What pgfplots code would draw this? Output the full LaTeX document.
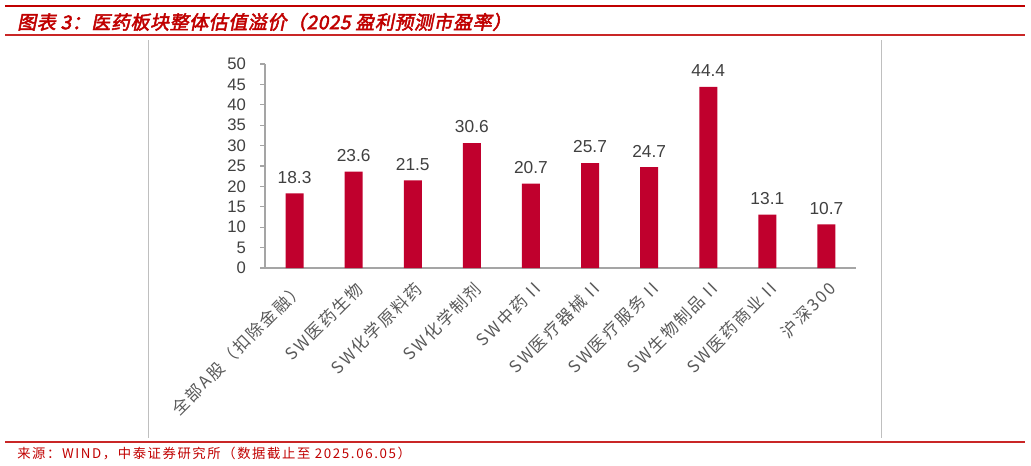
\documentclass[border=0pt]{standalone}
\usepackage{pgfplots}
\pgfplotsset{compat=1.18}
\usepackage{fontspec}
\setmainfont{Liberation Sans}
\newfontfamily\cjk{Noto Sans CJK SC}
\newfontfamily\cjkwide[LetterSpace=12]{Noto Sans CJK SC}
\newfontfamily\titlefont[FakeSlant=0.2,FakeBold=2.5,LetterSpace=3]{Noto Sans CJK SC}
\definecolor{barred}{RGB}{192,0,45}
\definecolor{hdred}{RGB}{192,0,0}
\definecolor{axgray}{RGB}{165,165,165}
\definecolor{txtgray}{RGB}{64,64,64}
\definecolor{catgray}{RGB}{89,89,89}
\pgfplotsset{/pgf/number format/assume math mode=true}

\begin{document}
\begin{tikzpicture}
% page frame in pixel units of the reference (y downwards)
\begin{scope}[x=0.75pt,y=-0.75pt]
\useasboundingbox (0,0) rectangle (1031,465);
\draw[hdred, line width=2.2pt] (5,6) -- (1025,6);
\draw[hdred!85, line width=0.8pt] (5,35) -- (1025,35);
\draw[hdred!85, line width=0.8pt] (5,442) -- (1025,442);
\draw[black!25, line width=0.7pt] (148,40) -- (148,438);
\draw[black!25, line width=0.7pt] (881,40) -- (881,438);
\node[anchor=west, text=hdred, inner sep=0, font=\titlefont\fontsize{14.25}{16}\selectfont]
  at (17,22) {图表 3：医药板块整体估值溢价（2025 盈利预测市盈率）};
\node[anchor=west, text=hdred, inner sep=0, font=\cjkwide\fontsize{10}{11}\selectfont]
  at (17,453) {来源：WIND，中泰证券研究所（数据截止至 2025.06.05）};
\end{scope}

\begin{axis}[
    at={(198.75pt,-201pt)}, anchor=south west,
    scale only axis, width=443.25pt, height=153pt,
    xmin=-0.5, xmax=9.5, ymin=0, ymax=50,
    ybar, bar width=13.5pt,
    clip=false,
    axis x line*=bottom, axis y line*=left,
    axis line style={axgray, line width=0.8pt, -},
    ytick={0,5,...,50},
    tick align=outside,
    major tick length=3.75pt,
    tick style={axgray, line width=0.8pt},
    yticklabel style={font=\fontsize{12.5}{13}\selectfont, text=txtgray, xshift=-7pt},
    xtick={0,...,9},
    major x tick style={draw=none},
    extra x ticks={-0.5,0.5,...,9.5},
    extra x tick labels={},
    extra x tick style={major x tick style={axgray, line width=0.8pt}},
    xticklabels={全部A股（扣除金融）, SW医药生物, SW化学原料药, SW化学制剂, SW中药 II,
      SW医疗器械 II, SW医疗服务 II, SW生物制品 II, SW医药商业 II, 沪深300},
    xticklabel style={font=\cjkwide\fontsize{12.5}{13}\selectfont, text=catgray,
      rotate=45, anchor=east, yshift=-10pt},
    nodes near coords,
    nodes near coords style={font=\fontsize{13}{14}\selectfont, text=txtgray, yshift=4pt,
      /pgf/number format/.cd, fixed, precision=1, fixed zerofill},
]
\addplot[fill=barred, draw=none] coordinates {
  (0,18.3) (1,23.6) (2,21.5) (3,30.6) (4,20.7)
  (5,25.7) (6,24.7) (7,44.4) (8,13.1) (9,10.7)};
\end{axis}
\end{tikzpicture}
\end{document}
